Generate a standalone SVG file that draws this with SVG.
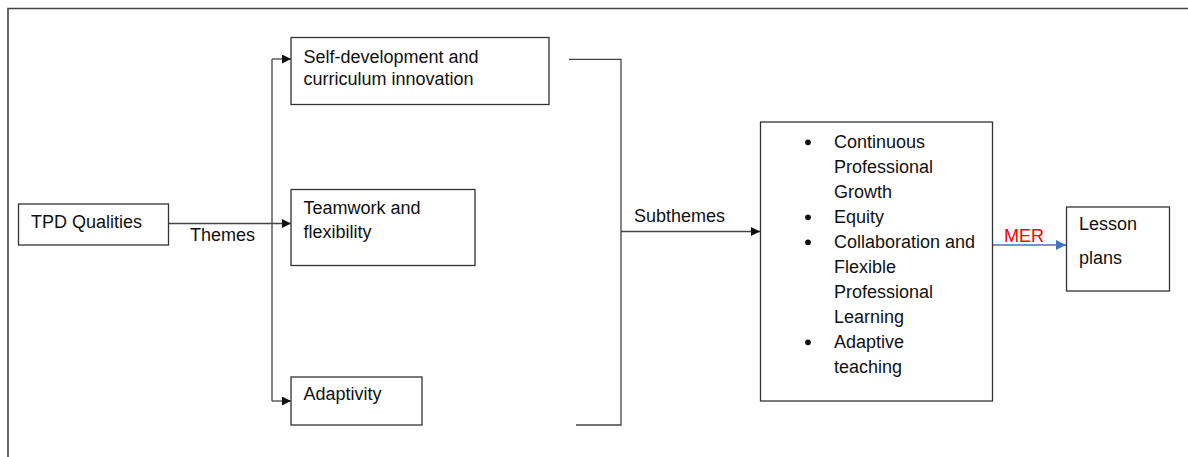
<svg xmlns="http://www.w3.org/2000/svg" width="1188" height="457" viewBox="0 0 1188 457">
<style>
.box{fill:#fff;stroke:#333;stroke-width:1.3}
.t{font-family:"Liberation Sans",Arial,sans-serif;font-size:18px;fill:#111}
.ln{fill:none;stroke:#444;stroke-width:1.3}
.frame{fill:none;stroke:#444;stroke-width:1.6}
.dot{fill:#111}
</style>
<defs>
<marker id="ah" viewBox="0 0 10 10" refX="10" refY="5" markerWidth="10" markerHeight="9" markerUnits="userSpaceOnUse" orient="auto">
<path d="M0,0 L10,5 L0,10 Z" fill="#111"/>
</marker>
<marker id="ahb" viewBox="0 0 10 10" refX="10" refY="5" markerWidth="10" markerHeight="10" markerUnits="userSpaceOnUse" orient="auto">
<path d="M0,0 L10,5 L0,10 Z" fill="#4472C4"/>
</marker>
</defs>
<path class="frame" d="M8,457 V8.5 H1188"/>
<g id="connectors">
<path class="ln" d="M168,223.5 H291" marker-end="url(#ah)"/>
<path class="ln" d="M272,59 V401"/>
<path class="ln" d="M272,59 H291" marker-end="url(#ah)"/>
<path class="ln" d="M272,401 H291" marker-end="url(#ah)"/>
<path class="ln" d="M569,59.3 H621 V425 H576"/>
<path class="ln" d="M621,231.5 H760" marker-end="url(#ah)"/>
<path fill="none" stroke="#4472C4" stroke-width="1.3" d="M992,245 H1066" marker-end="url(#ahb)"/>
<text class="t" x="190" y="241">Themes</text>
<text class="t" x="634" y="222">Subthemes</text>
<text class="t" x="1004" y="242" style="fill:#ff0000">MER</text>
</g>
<g id="tpd">
<rect class="box" x="18.5" y="204" width="150" height="41"/>
<text class="t" x="31" y="228">TPD Qualities</text>
</g>
<g id="selfdev">
<rect class="box" x="291" y="37.5" width="258" height="67"/>
<text class="t" x="303.5" y="63">Self-development and</text>
<text class="t" x="303.5" y="85">curriculum innovation</text>
</g>
<g id="teamwork">
<rect class="box" x="291" y="189.5" width="184" height="76"/>
<text class="t" x="303.5" y="214">Teamwork and</text>
<text class="t" x="303.5" y="238">flexibility</text>
</g>
<g id="adaptivity">
<rect class="box" x="291" y="377" width="131" height="48"/>
<text class="t" x="303.5" y="400">Adaptivity</text>
</g>
<g id="subthemes">
<rect class="box" x="760.5" y="122" width="232" height="279"/>
<circle class="dot" cx="808" cy="142.3" r="2.9"/>
<circle class="dot" cx="808" cy="217.3" r="2.9"/>
<circle class="dot" cx="808" cy="242.3" r="2.9"/>
<circle class="dot" cx="808" cy="342.3" r="2.9"/>
<text class="t" x="834" y="148">Continuous</text>
<text class="t" x="834" y="173">Professional</text>
<text class="t" x="834" y="198">Growth</text>
<text class="t" x="834" y="223">Equity</text>
<text class="t" x="834" y="248">Collaboration and</text>
<text class="t" x="834" y="273">Flexible</text>
<text class="t" x="834" y="298">Professional</text>
<text class="t" x="834" y="323">Learning</text>
<text class="t" x="834" y="348">Adaptive</text>
<text class="t" x="834" y="373">teaching</text>
</g>
<g id="lesson">
<rect class="box" x="1066.5" y="207" width="103" height="84"/>
<text class="t" x="1079" y="230">Lesson</text>
<text class="t" x="1079" y="264">plans</text>
</g>
</svg>
